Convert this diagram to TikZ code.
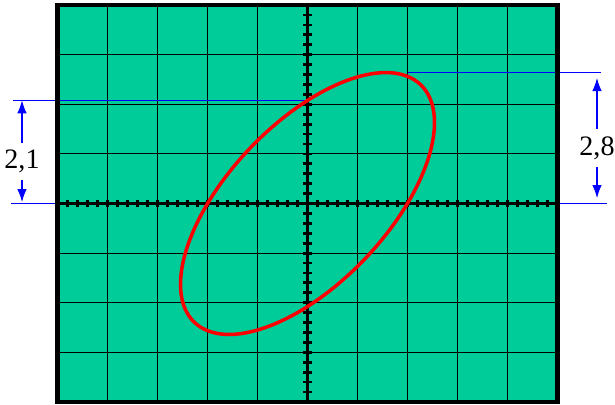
\documentclass[tikz,border=0pt]{standalone}
\usepackage{fontspec}
\setmainfont{Liberation Serif}
\usetikzlibrary{arrows.meta}
\definecolor{screen}{RGB}{0,204,153}
\definecolor{dimblue}{RGB}{0,0,255}
\definecolor{trace}{RGB}{255,0,0}

\begin{document}
\begin{tikzpicture}[
    x=1cm, y=0.992cm,
    gridline/.style={black, line width=0.6pt},
    axisline/.style={black, line width=2.2pt},
    tickmark/.style={black, line width=1.6pt},
    dimline/.style={dimblue, line width=0.6pt},
    dimarrow/.style={dimblue, line width=0.6pt, -{Latex[length=2.6mm,width=1.9mm]}},
    dimlabel/.style={font=\fontsize{16}{18}\selectfont, inner sep=0pt, minimum height=0.74cm},
]
    \useasboundingbox (-6.15,-4.042) rectangle (6.15,4.103);

    % screen and grid
    \fill[screen] (-5,-4) rectangle (5,4);
    \foreach \i in {-4,...,4} \draw[gridline] (\i,-4) -- (\i,4);
    \foreach \j in {-3,...,3} \draw[gridline] (-5,\j) -- (5,\j);

    % dimension lines
    \coordinate (la) at (-5.89,2.08);
    \coordinate (lb) at (0,2.08);
    \coordinate (lc) at (-5.93,0);
    \coordinate (ld) at (-5,0);
    \coordinate (ra) at (2,2.64);
    \coordinate (rb) at (5.87,2.64);
    \coordinate (rc) at (5,0);
    \coordinate (rd) at (5.99,0);
    \draw[dimline] (la) -- (lb);
    \draw[dimline] (lc) -- (ld);
    \draw[dimline] (ra) -- (rb);
    \draw[dimline] (rc) -- (rd);

    % axes with ticks
    \draw[axisline] (-5,0) -- (5,0);
    \draw[axisline] (0,-4) -- (0,4);
    \foreach \k in {-24,...,24} \draw[tickmark] (\k/5,-0.08) -- (\k/5,0.08);
    \foreach \k in {-19,...,19} \draw[tickmark] (-0.08,\k/5) -- (0.08,\k/5);

    % trace
    \draw[trace, line width=2pt] plot[domain=0:360, samples=145, variable=\t]
        ({2.54*cos(\t)},{2.64*cos(\t-51.9)}) -- cycle;

    \draw[black, line width=2.3pt] (-5,-4) rectangle (5,4);

    % labels
    \node[dimlabel] (dimleft) at (-5.71,0.85) {2,1};
    \node[dimlabel] (dimright) at (5.79,1.12) {2,8};
    \coordinate (lup) at (-5.71,2.08);
    \coordinate (ldown) at (-5.71,0.03);
    \coordinate (rup) at (5.79,2.53);
    \coordinate (rdown) at (5.79,0.11);
    \draw[dimarrow] (dimleft) -- (lup);
    \draw[dimarrow] (dimleft) -- (ldown);
    \draw[dimarrow] (dimright) -- (rup);
    \draw[dimarrow] (dimright) -- (rdown);
\end{tikzpicture}
\end{document}
